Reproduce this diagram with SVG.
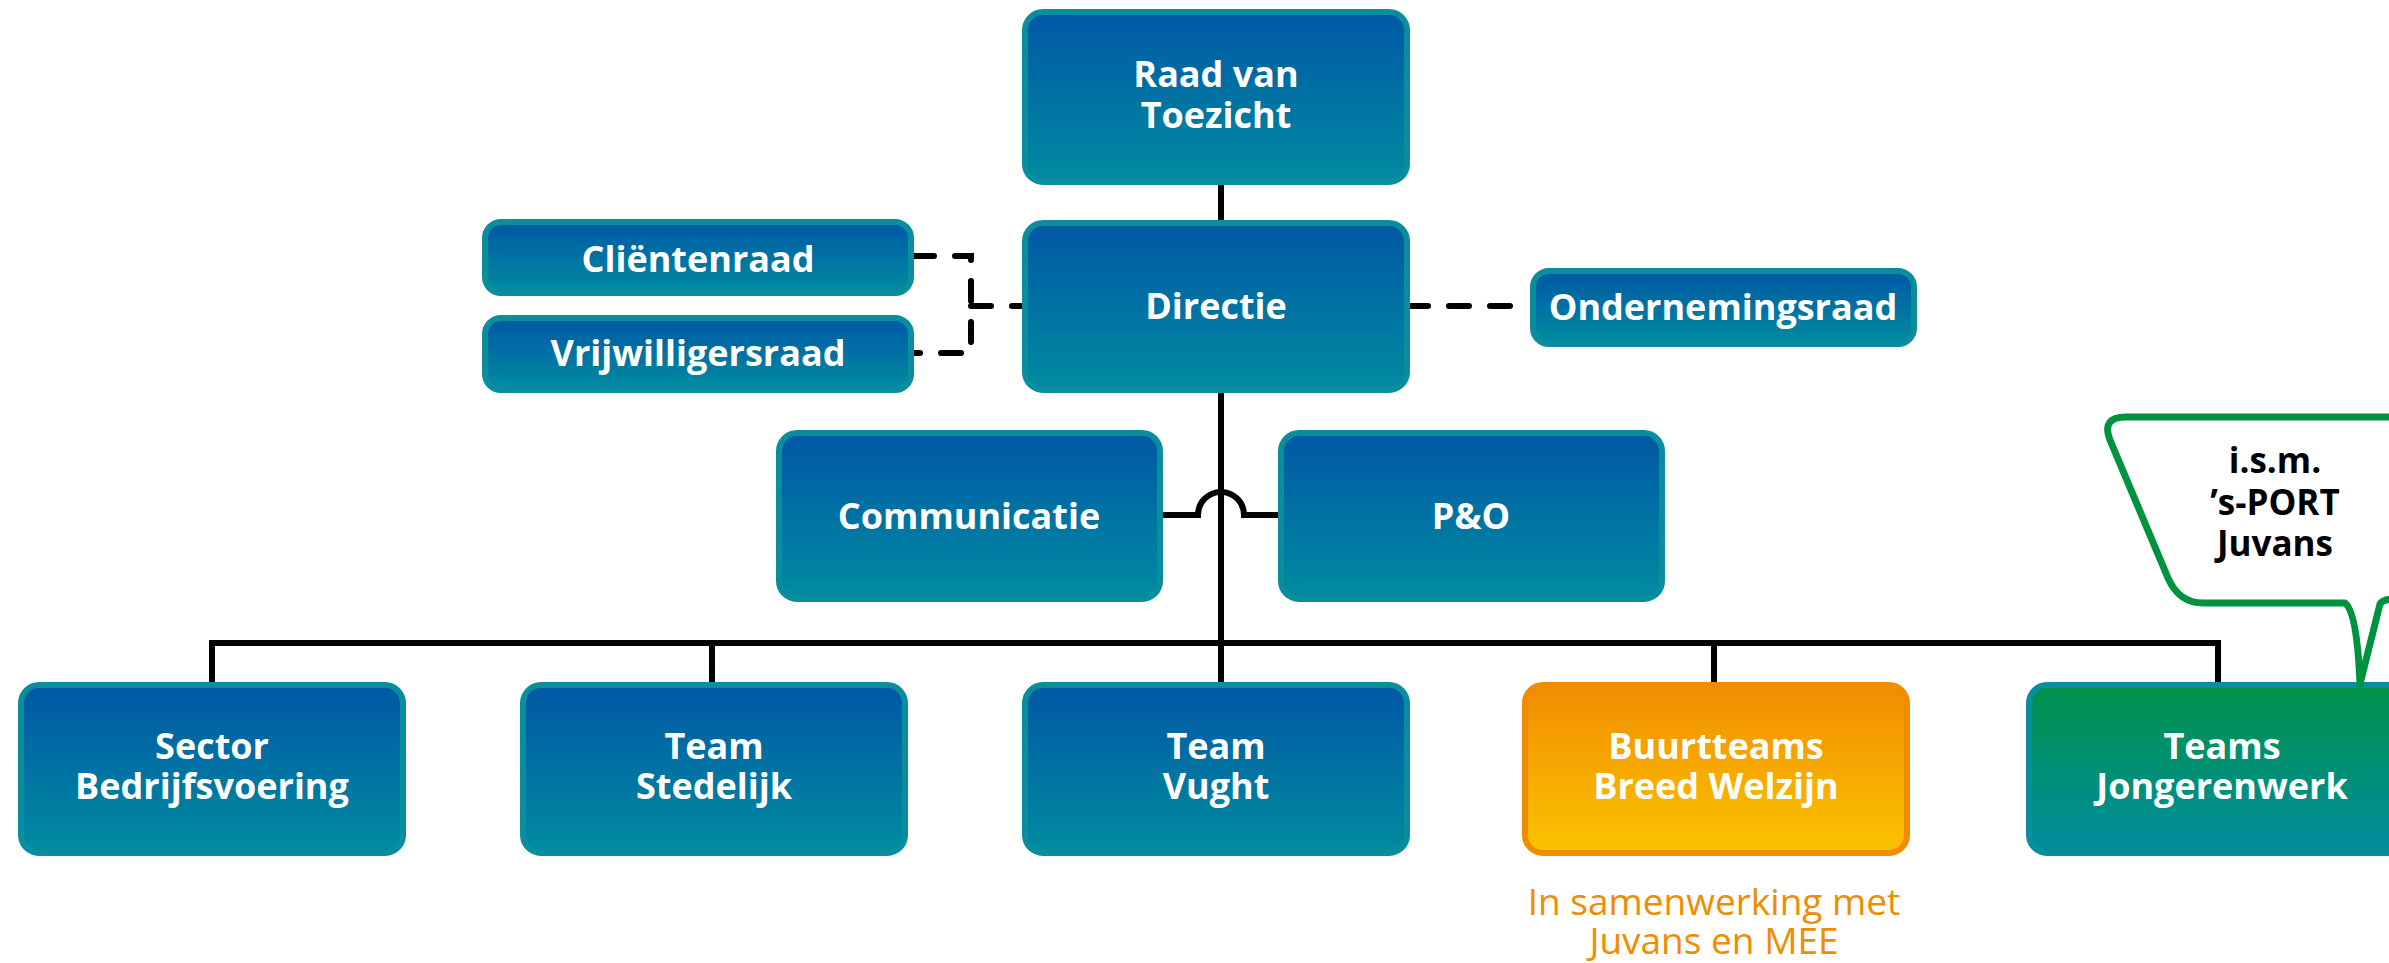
<svg xmlns="http://www.w3.org/2000/svg" width="2389" height="963" viewBox="0 0 2389 963">
<defs>
<linearGradient id="gBlue" x1="0" y1="0" x2="0" y2="1"><stop offset="0" stop-color="#0058a5"/><stop offset="1" stop-color="#008ca0"/></linearGradient>
<linearGradient id="gOrange" x1="0" y1="0" x2="0" y2="1"><stop offset="0" stop-color="#f18e00"/><stop offset="1" stop-color="#fbc300"/></linearGradient>
<linearGradient id="gGreen" x1="0" y1="0" x2="0" y2="1"><stop offset="0" stop-color="#00924a"/><stop offset="1" stop-color="#008c9e"/></linearGradient>
<style>
.box{fill:url(#gBlue);stroke:#0a8e9e;stroke-width:6}
.orange{fill:url(#gOrange);stroke:#f08c00;stroke-width:6}
.green{fill:url(#gGreen);stroke:#0a8e9e;stroke-width:6}
.t{font-family:"Open Sans","DejaVu Sans",sans-serif;font-weight:700;font-size:36px;fill:#ffffff;text-anchor:middle}
.tb{font-family:"Open Sans","DejaVu Sans",sans-serif;font-weight:700;font-size:35px;fill:#000000;text-anchor:middle}
.to{font-family:"Open Sans","DejaVu Sans",sans-serif;font-weight:400;font-size:37px;fill:#f08c00;text-anchor:middle}
.line{fill:none;stroke:#000;stroke-width:6}
.dash{fill:none;stroke:#000;stroke-width:6;stroke-dasharray:20 21;stroke-linecap:round}
</style>
</defs>
<rect width="2389" height="963" fill="#ffffff"/>
<g id="connectors">
<path class="line" d="M1221,184 V682"/>
<path class="line" d="M212,682 V643 H2218 V682"/>
<path class="line" d="M712,643 V682"/>
<path class="line" d="M1714,643 V682"/>
<path class="line" d="M1163,515 H1198 A23 23 0 0 1 1244 515 H1278"/>
<path class="dash" d="M914,256 H971 V353 H914"/>
<path class="dash" d="M971,306 H1022"/>
<path class="dash" d="M1408,306 H1530"/>
</g>
<g id="raad"><rect class="box" x="1025" y="12" width="382" height="170" rx="18"/><text class="t" x="1216" y="87">Raad van</text><text class="t" x="1216" y="128">Toezicht</text></g>
<g id="directie"><rect class="box" x="1025" y="223" width="382" height="167" rx="18"/><text class="t" x="1216" y="319">Directie</text></g>
<g id="clientenraad"><rect class="box" x="485" y="222" width="426" height="71" rx="16"/><text class="t" x="698" y="272">Cliëntenraad</text></g>
<g id="vrijwilligersraad"><rect class="box" x="485" y="318" width="426" height="72" rx="16"/><text class="t" x="698" y="366">Vrijwilligersraad</text></g>
<g id="ondernemingsraad"><rect class="box" x="1533" y="271" width="381" height="73" rx="16"/><text class="t" x="1723" y="320">Ondernemingsraad</text></g>
<g id="communicatie"><rect class="box" x="779" y="433" width="381" height="166" rx="18"/><text class="t" x="969" y="529">Communicatie</text></g>
<g id="po"><rect class="box" x="1281" y="433" width="381" height="166" rx="18"/><text class="t" x="1471" y="529">P&amp;O</text></g>
<g id="sector"><rect class="box" x="21" y="685" width="382" height="168" rx="18"/><text class="t" x="212" y="759">Sector</text><text class="t" x="212" y="799">Bedrijfsvoering</text></g>
<g id="stedelijk"><rect class="box" x="523" y="685" width="382" height="168" rx="18"/><text class="t" x="714" y="759">Team</text><text class="t" x="714" y="799">Stedelijk</text></g>
<g id="vught"><rect class="box" x="1025" y="685" width="382" height="168" rx="18"/><text class="t" x="1216" y="759">Team</text><text class="t" x="1216" y="799">Vught</text></g>
<g id="buurtteams"><rect class="orange" x="1525" y="685" width="382" height="168" rx="18"/><text class="t" x="1716" y="759">Buurtteams</text><text class="t" x="1716" y="799">Breed Welzijn</text><text class="to" x="1714" y="915">In samenwerking met</text><text class="to" x="1714" y="954">Juvans en MEE</text></g>
<g id="jongerenwerk"><rect class="green" x="2029" y="685" width="420" height="168" rx="18"/><text class="t" x="2222" y="759">Teams</text><text class="t" x="2222" y="799">Jongerenwerk</text></g>
<g id="callout"><path d="M2420,417 H2126 Q2101,417 2110,440 L2168,578 Q2179,603 2203,603 H2345 Q2357,612 2360,684 L2380,604 Q2383,599 2395,599 H2420 Z" fill="#ffffff" stroke="#00933f" stroke-width="7" stroke-linejoin="round"/><text class="tb" x="2275" y="473">i.s.m.</text><text class="tb" x="2275" y="515">’s-PORT</text><text class="tb" x="2275" y="556">Juvans</text></g>
</svg>
